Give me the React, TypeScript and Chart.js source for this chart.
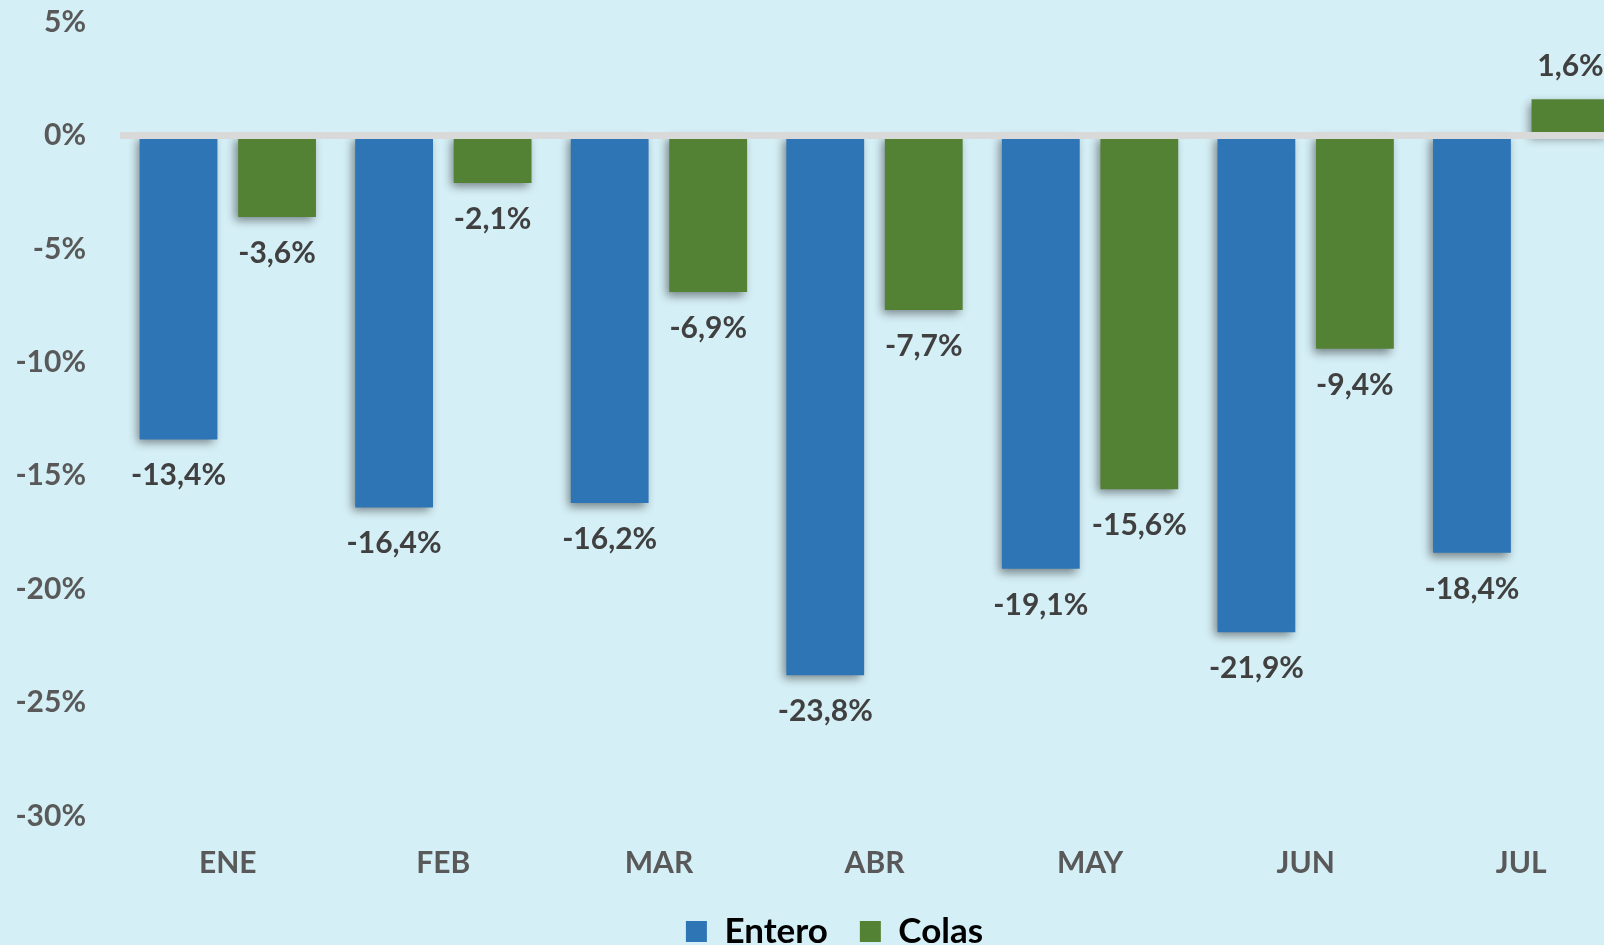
import React, { useEffect, useRef } from "react";
import { Chart, registerables } from "chart.js";

Chart.register(...registerables);

const months = ["ENE", "FEB", "MAR", "ABR", "MAY", "JUN", "JUL"];
const entero = [-13.4, -16.4, -16.2, -23.8, -19.1, -21.9, -18.4];
const colas = [-3.6, -2.1, -6.9, -7.7, -15.6, -9.4, 1.6];
const seriesNames = ["Entero", "Colas"];
const yMin = -30;
const yMax = 5;
const yStep = 5;

const BLUE = "#2E75B6";
const GREEN = "#548235";
const BG = "#D5EFF6";
const FONT = "Lato, 'Open Sans', sans-serif";

const fmt = (v: number) => v.toFixed(1).replace(".", ",") + "%";

const shadowPlugin = {
  id: "barShadow",
  beforeDatasetsDraw(chart: any) {
    const c = chart.ctx;
    c.save();
    c.shadowColor = "rgba(0,0,0,0.45)";
    c.shadowBlur = 9;
    c.shadowOffsetX = -3;
    c.shadowOffsetY = 4;
  },
  afterDatasetsDraw(chart: any) {
    chart.ctx.restore();
  },
};

const zeroLinePlugin = {
  id: "zeroLine",
  afterDatasetsDraw(chart: any) {
    const c = chart.ctx;
    const y = chart.scales.y.getPixelForValue(0);
    c.save();
    c.strokeStyle = "#D9D9D9";
    c.lineWidth = 7;
    c.beginPath();
    c.moveTo(chart.chartArea.left, y);
    c.lineTo(chart.width, y);
    c.stroke();
    c.restore();
  },
};

const labelPlugin = {
  id: "valueLabels",
  afterDatasetsDraw(chart: any) {
    const c = chart.ctx;
    c.save();
    c.font = `bold 30px ${FONT}`;
    c.fillStyle = "#404040";
    c.textAlign = "center";
    c.textBaseline = "alphabetic";
    chart.data.datasets.forEach((ds: any, di: number) => {
      const meta = chart.getDatasetMeta(di);
      meta.data.forEach((bar: any, i: number) => {
        const v = ds.data[i] as number;
        const by = bar.y;
        const ty = v < 0 ? by + 46 : by - 23;
        c.fillText(fmt(v), bar.x, ty);
      });
    });
    c.restore();
  },
};

// shift the legend block to match the original placement
const legendShiftPlugin = {
  id: "legendShift",
  afterLayout(chart: any) {
    const lg = chart.legend;
    if (!lg) return;
    const dx = 20;
    const dy = -28;
    lg.left += dx;
    lg.right += dx;
    lg.top += dy;
    lg.bottom += dy;
  },
};

export default function App() {
  const ref = useRef<HTMLCanvasElement | null>(null);

  useEffect(() => {
    if (!ref.current) return;
    const chart = new Chart(ref.current, {
      type: "bar",
      data: {
        labels: months,
        datasets: [
          {
            label: seriesNames[0],
            data: entero,
            backgroundColor: BLUE,
            borderWidth: 0,
            categoryPercentage: 0.914,
            barPercentage: 0.79,
          },
          {
            label: seriesNames[1],
            data: colas,
            backgroundColor: GREEN,
            borderWidth: 0,
            categoryPercentage: 0.914,
            barPercentage: 0.79,
          },
        ],
      },
      options: {
        responsive: false,
        animation: false,
        layout: { padding: { left: 0, top: 22, right: 0, bottom: 0 } },
        plugins: {
          tooltip: { enabled: false },
          legend: {
            position: "bottom",
            labels: {
              boxWidth: 21,
              boxHeight: 21,
              padding: 32,
              color: "#000000",
              font: { family: FONT, size: 35, weight: "bold" },
            },
          },
        },
        scales: {
          x: {
            grid: { display: false, drawTicks: false },
            border: { display: false },
            ticks: {
              padding: 29,
              color: "#595959",
              font: { family: FONT, size: 30, weight: "bold" },
            },
          },
          y: {
            min: yMin,
            max: yMax,
            grid: { display: false, drawTicks: false },
            border: { display: false },
            afterFit: (scale: any) => {
              scale.width = 120;
              scale.paddingTop = 0;
              scale.paddingBottom = 0;
            },
            ticks: {
              stepSize: yStep,
              padding: 34,
              color: "#595959",
              font: { family: FONT, size: 30, weight: "bold" },
              callback: (v: any) => `${v}%`,
            },
          },
        },
      },
      plugins: [shadowPlugin, zeroLinePlugin, labelPlugin, legendShiftPlugin],
    });
    return () => chart.destroy();
  }, []);

  return (
    <div
      style={{
        position: "fixed",
        left: 0,
        top: 0,
        width: 1604,
        height: 945,
        overflow: "hidden",
        background: BG,
      }}
    >
      <canvas ref={ref} width={1629} height={987} style={{ display: "block" }} />
    </div>
  );
}
